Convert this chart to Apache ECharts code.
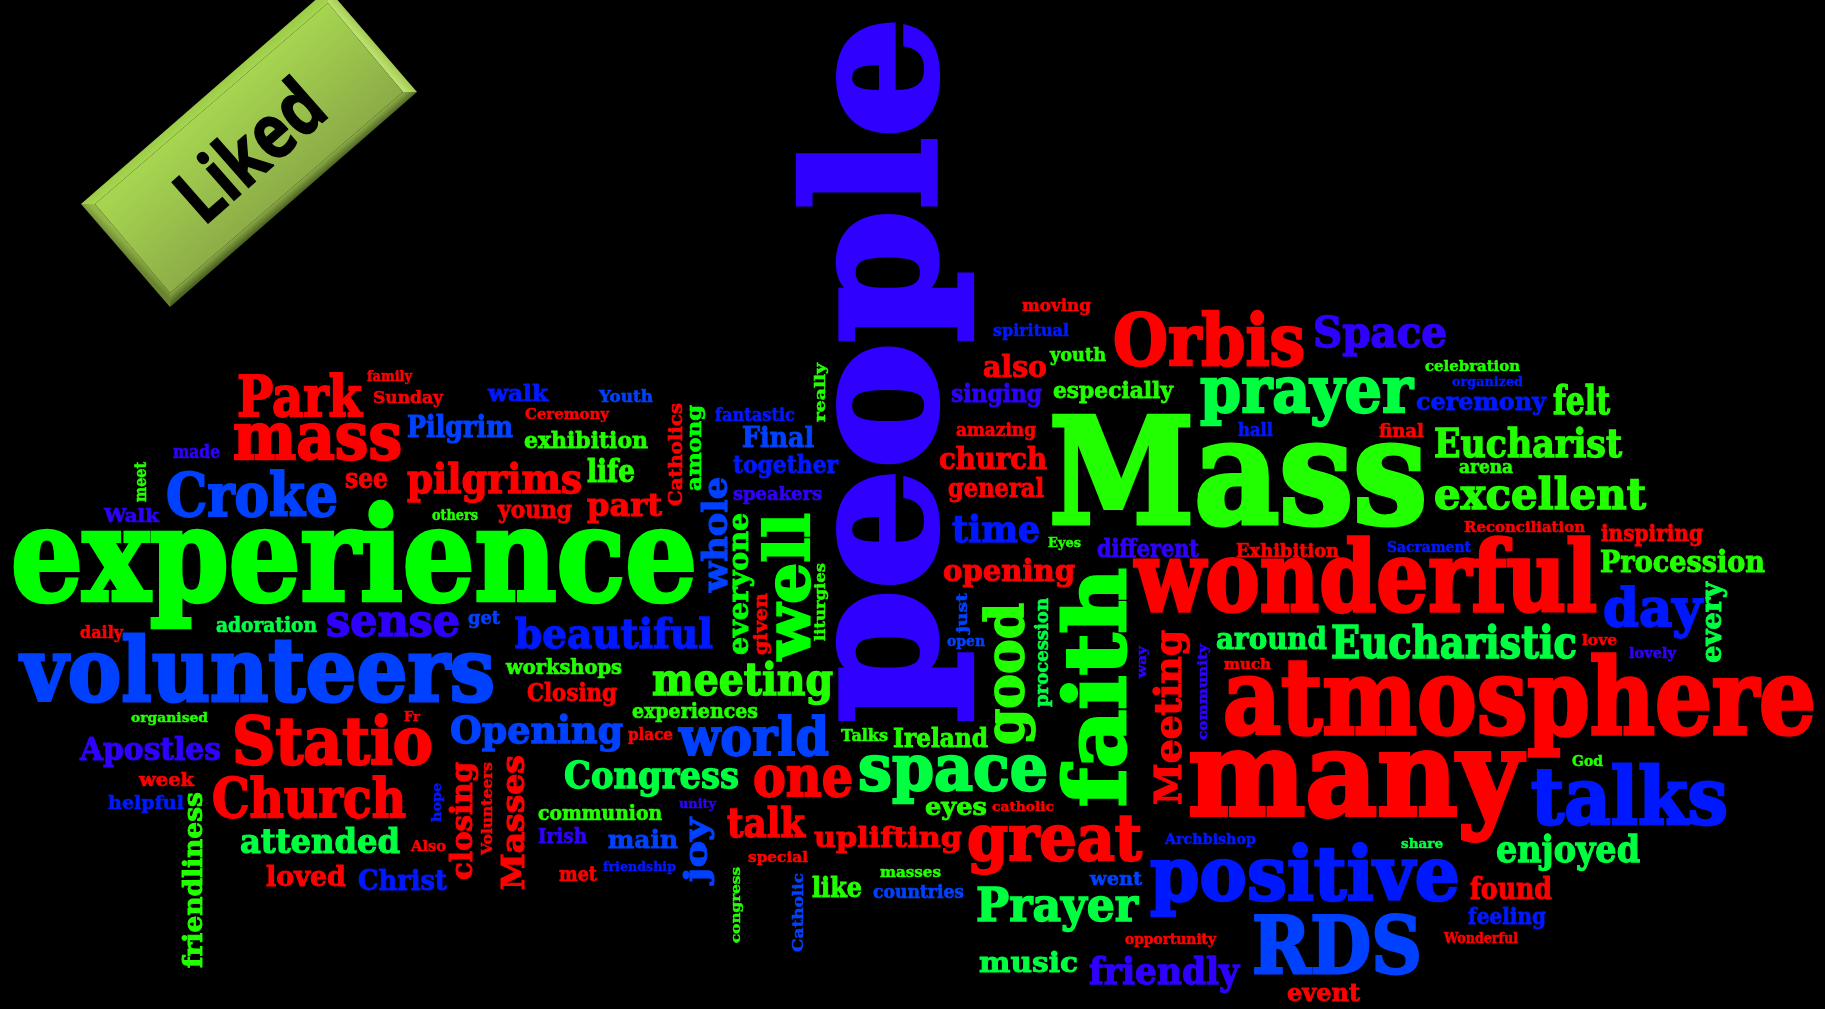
<!DOCTYPE html>
<html>
<head>
<meta charset="utf-8">
<title>Liked</title>
<script src="https://cdn.jsdelivr.net/npm/echarts@6/dist/echarts.min.js"></script>
<style>
  html, body { margin: 0; height: 100%; background: #000; overflow: hidden; }
  /* the reference is a soft upscale, so take the edge off the text */
  #chart { width: 1825px; height: 1009px; filter: blur(0.6px); }
</style>
</head>
<body>
<div id="chart"></div>
<script>
// each row: word, x, baseline y, length, weight, turned
// turned words read bottom to top: x is the baseline, y the start of the word
const redWords = [
  ['atmosphere', 1223, 738, 593, 113, 0], ['many', 1188, 820, 334, 128, 0], ['wonderful', 1135, 615, 462, 106, 0],
  ['Statio', 232, 767, 201, 72, 0], ['mass', 233, 462, 169, 72, 0], ['Orbis', 1113, 368, 192, 78, 0],
  ['Church', 212, 819, 194, 58, 0], ['great', 967, 863, 175, 70, 0], ['Park', 237, 418, 125, 60, 0],
  ['one', 753, 798, 100, 60, 0], ['pilgrims', 407, 495, 175, 44, 0], ['Meeting', 1182, 805, 175, 40, 1],
  ['talk', 727, 839, 78, 44, 0], ['part', 587, 517, 75, 34, 0], ['uplifting', 814, 848, 148, 30, 0],
  ['closing', 473, 880, 118, 32, 1], ['Masses', 525, 890, 135, 34, 1], ['church', 939, 470, 108, 32, 0],
  ['opening', 943, 582, 132, 32, 0], ['also', 983, 378, 64, 32, 0], ['general', 948, 498, 96, 28, 0],
  ['see', 345, 489, 43, 30, 0], ['found', 1470, 900, 82, 32, 0], ['Closing', 527, 702, 90, 26, 0],
  ['young', 498, 519, 74, 26, 0], ['loved', 266, 887, 80, 30, 0], ['event', 1287, 1002, 73, 26, 0],
  ['inspiring', 1601, 542, 102, 24, 0], ['Catholics', 683, 506, 103, 20, 1], ['Volunteers', 493, 855, 93, 16, 1],
  ['given', 768, 655, 62, 20, 1], ['met', 559, 882, 38, 22, 0], ['week', 139, 787, 55, 21, 0],
  ['Sunday', 373, 404, 70, 18, 0], ['Ceremony', 525, 420, 84, 16, 0], ['Exhibition', 1236, 558, 103, 20, 0],
  ['moving', 1022, 312, 69, 19, 0], ['amazing', 956, 437, 80, 20, 0], ['place', 628, 741, 45, 19, 0],
  ['final', 1379, 438, 45, 20, 0], ['special', 748, 863, 60, 17, 0], ['daily', 80, 639, 43, 18, 0],
  ['Reconciliation', 1464, 533, 121, 17, 0], ['much', 1224, 670, 47, 17, 0], ['opportunity', 1125, 945, 91, 16, 0],
  ['Wonderful', 1444, 944, 74, 16, 0], ['catholic', 992, 812, 62, 15, 0], ['family', 367, 382, 45, 16, 0],
  ['love', 1582, 646, 35, 16, 0], ['Also', 411, 852, 35, 16, 0], ['Fr', 404, 722, 16, 14, 0]
]
const blueWords = [
  ['positive', 1150, 903, 310, 82, 0], ['talks', 1531, 827, 197, 86, 0], ['beautiful', 515, 650, 198, 44, 0],
  ['day', 1603, 628, 99, 56, 0], ['time', 952, 543, 88, 40, 0], ['Christ', 358, 891, 89, 30, 0],
  ['ceremony', 1416, 411, 130, 26, 0], ['together', 733, 474, 105, 27, 0], ['walk', 488, 402, 60, 24, 0],
  ['feeling', 1468, 925, 78, 24, 0], ['helpful', 108, 810, 76, 21, 0], ['fantastic', 715, 422, 80, 20, 0],
  ['hall', 1238, 437, 35, 20, 0], ['spiritual', 993, 337, 76, 18, 0], ['Archbishop', 1165, 845, 91, 16, 0],
  ['Sacrament', 1387, 553, 84, 16, 0], ['organized', 1452, 387, 71, 14, 0], ['friendship', 603, 872, 73, 14, 0],
  ['hope', 442, 822, 39, 14, 1]
]
const azureWords = [
  ['volunteers', 21, 705, 474, 96, 0], ['RDS', 1252, 976, 170, 86, 0], ['Croke', 166, 518, 172, 64, 0],
  ['world', 679, 757, 150, 56, 0], ['Opening', 450, 745, 173, 41, 0], ['whole', 728, 592, 115, 36, 1],
  ['joy', 708, 882, 64, 34, 1], ['Pilgrim', 407, 438, 106, 32, 0], ['Final', 742, 448, 72, 30, 0],
  ['main', 608, 849, 70, 27, 0], ['went', 1090, 886, 52, 20, 0], ['countries', 873, 899, 91, 20, 0],
  ['get', 468, 625, 32, 20, 0], ['Youth', 599, 403, 54, 19, 0], ['Catholic', 804, 952, 79, 17, 1],
  ['open', 947, 647, 38, 17, 0], ['just', 968, 633, 40, 17, 1]
]
const indigoWords = [
  ['people', 941, 722, 705, 194, 1], ['sense', 326, 638, 134, 49, 0], ['Space', 1313, 349, 134, 46, 0],
  ['friendly', 1089, 985, 150, 40, 0], ['Apostles', 80, 761, 141, 34, 0], ['singing', 951, 403, 91, 26, 0],
  ['different', 1097, 558, 102, 26, 0], ['Irish', 538, 844, 49, 22, 0], ['Walk', 104, 523, 55, 21, 0],
  ['speakers', 733, 501, 89, 21, 0], ['made', 173, 459, 47, 20, 0], ['lovely', 1629, 659, 47, 17, 0],
  ['community', 1208, 740, 96, 15, 1], ['way', 1147, 678, 32, 14, 1], ['unity', 679, 809, 37, 14, 0]
]
const greenWords = [
  ['experience', 11, 605, 686, 141, 0], ['faith', 1128, 807, 239, 92, 1], ['well', 812, 660, 147, 68, 1],
  ['everyone', 749, 655, 142, 30, 1], ['among', 702, 491, 86, 22, 1]
]
const limeWords = [
  ['Mass', 1049, 529, 378, 158, 0], ['excellent', 1434, 511, 212, 46, 0], ['Eucharist', 1434, 459, 188, 42, 0],
  ['meeting', 652, 697, 181, 48, 0], ['good', 1025, 745, 142, 56, 1], ['felt', 1553, 416, 57, 42, 0],
  ['Procession', 1600, 573, 165, 32, 0], ['life', 587, 483, 48, 34, 0], ['like', 812, 898, 50, 30, 0],
  ['Ireland', 893, 748, 95, 28, 0], ['eyes', 925, 816, 62, 27, 0], ['friendliness', 203, 968, 176, 28, 1],
  ['exhibition', 524, 449, 124, 24, 0], ['especially', 1053, 399, 120, 24, 0], ['workshops', 506, 675, 116, 22, 0],
  ['communion', 538, 821, 124, 22, 0], ['experiences', 632, 719, 126, 22, 0], ['youth', 1050, 362, 56, 20, 0],
  ['arena', 1459, 474, 54, 20, 0], ['Talks', 841, 742, 47, 18, 0], ['celebration', 1425, 372, 95, 17, 0],
  ['really', 826, 422, 59, 17, 1], ['masses', 880, 878, 61, 16, 0], ['liturgies', 826, 641, 78, 16, 1],
  ['God', 1572, 767, 31, 16, 0], ['others', 432, 521, 46, 16, 0], ['organised', 131, 723, 77, 15, 0],
  ['Eyes', 1048, 548, 33, 15, 0], ['meet', 147, 502, 40, 18, 1], ['congress', 740, 943, 76, 13, 1]
]
const mintWords = [
  ['prayer', 1200, 415, 213, 70, 0], ['space', 858, 793, 190, 70, 0], ['Eucharistic', 1331, 660, 246, 48, 0],
  ['Congress', 564, 789, 175, 40, 0], ['Prayer', 976, 923, 162, 50, 0], ['attended', 240, 854, 160, 36, 0],
  ['enjoyed', 1496, 863, 144, 40, 0], ['around', 1216, 650, 111, 32, 0], ['music', 979, 973, 99, 30, 0],
  ['every', 1722, 663, 81, 30, 1], ['adoration', 216, 633, 101, 23, 0], ['procession', 1049, 707, 109, 20, 1],
  ['share', 1401, 849, 42, 15, 0]
]

const wordGroups = [
  { name: 'red', color: '#ff0000', rows: redWords },
  { name: 'blue', color: '#0018ff', rows: blueWords },
  { name: 'azure', color: '#0040ff', rows: azureWords },
  { name: 'indigo', color: '#3000ff', rows: indigoWords },
  { name: 'green', color: '#00ff00', rows: greenWords },
  { name: 'lime', color: '#22ff00', rows: limeWords },
  { name: 'mint', color: '#00ff40', rows: mintWords }
]

const wordFont = '"DejaVu Serif"'
// canvas 'middle' sits this far above the baseline, in em
const middleOffset = 0.3
// the slab in the picture is lower and heavier than DejaVu: shrink a bit, fatten with a stroke
const sizeFactor = 0.92
const strokeRatio = 0.035

const measureCtx = document.createElement('canvas').getContext('2d')
const textWidth = (text, size, family, weight) => {
  measureCtx.font = `${weight} ${size}px ${family}`
  return measureCtx.measureText(text).width
}

const chart = echarts.init(document.getElementById('chart'), null, { renderer: 'canvas' })

const makeSeries = (group) => ({
  name: group.name,
  type: 'custom',
  coordinateSystem: 'cartesian2d',
  silent: true,
  animation: false,
  encode: { x: 0, y: 1 },
  data: group.rows.map((r) => [r[1], r[2], r[3], r[4], r[5]]),
  renderItem: (params, api) => {
    const row = group.rows[params.dataIndex]
    const pos = api.coord([api.value(0), api.value(1)])
    const size = api.value(3) * sizeFactor
    return {
      type: 'text',
      x: pos[0],
      y: pos[1],
      rotation: api.value(4) ? Math.PI / 2 : 0,
      // squeeze the wide slab face to the length
      scaleX: api.value(2) / textWidth(row[0], size, wordFont, 'bold'),
      scaleY: 1,
      style: {
        text: row[0],
        x: 0,
        y: -middleOffset * size,
        align: 'left',
        verticalAlign: 'middle',
        font: `bold ${size}px ${wordFont}`,
        fill: group.color,
        stroke: group.color,
        lineWidth: size * strokeRatio
      }
    }
  }
})

// the bevelled "Liked" tile in the top left, gradients in page pixels
const tileSide = (points, line, from, to) => ({
  type: 'polygon',
  silent: true,
  shape: { points },
  style: {
    fill: new echarts.graphic.LinearGradient(line[0], line[1], line[2], line[3], [
      { offset: 0, color: from },
      { offset: 1, color: to }
    ], true)
  }
})

const tileLabel = 'Liked'
const tileSize = 76

chart.setOption({
  backgroundColor: '#000',
  animation: false,
  grid: { left: 0, right: 0, top: 0, bottom: 0 },
  xAxis: { type: 'value', min: 0, max: 1825, show: false },
  yAxis: { type: 'value', min: 0, max: 1009, inverse: true, show: false },
  series: wordGroups.map(makeSeries),
  graphic: {
    elements: [
      tileSide([[81, 204], [328, -11], [328, 3], [95, 204]], [194, 106, 200, 113], '#9ccc48', '#a6d650'),
      tileSide([[328, -11], [417, 92], [403, 92], [328, 3]], [375, 44, 368, 50], '#a5cc55', '#bfe372'),
      tileSide([[417, 92], [170, 307], [170, 293], [403, 92]], [300, 181, 306, 188], '#8cab47', '#4f6623'),
      tileSide([[170, 307], [81, 204], [95, 204], [170, 293]], [130, 245, 123, 252], '#94b648', '#6a8530'),
      tileSide([[95, 204], [328, 3], [403, 92], [170, 293]], [210, 105, 290, 195], '#a6d650', '#8cab47'),
      {
        type: 'text',
        silent: true,
        x: 203,
        y: 226,
        rotation: 0.722,
        scaleX: 170 / textWidth(tileLabel, tileSize, '"Open Sans"', 'bold'),
        style: {
          text: tileLabel,
          x: 0,
          y: -0.27 * tileSize,
          align: 'left',
          verticalAlign: 'middle',
          font: `bold ${tileSize}px "Open Sans"`,
          fill: '#000',
          stroke: '#000',
          lineWidth: 1.5
        }
      }
    ]
  }
})

window.addEventListener('resize', () => chart.resize())
</script>
</body>
</html>
